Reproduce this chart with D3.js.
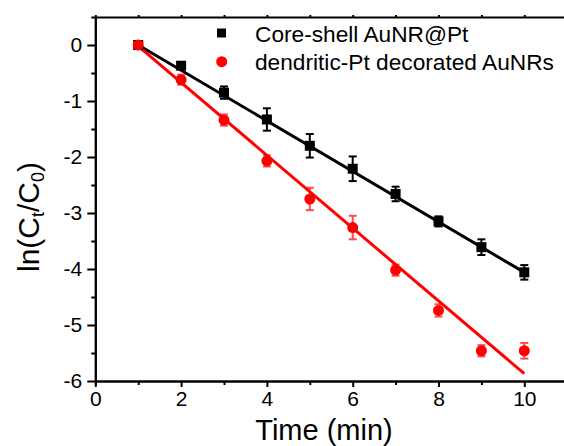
<!DOCTYPE html>
<html>
<head>
<meta charset="utf-8">
<script src="https://cdn.jsdelivr.net/npm/d3@7"></script>
<style>
  body { margin: 0; background: #fff; }
  svg { display: block; font-family: "Liberation Sans", Arial, sans-serif; }
</style>
</head>
<body>
<svg id="chart"></svg>
<script>
const width = 564;
const height = 446;

// data
const times = [1, 2, 3, 4, 5, 6, 7, 8, 9, 10];
const coreShell = [0, -0.37, -0.85, -1.33, -1.80, -2.21, -2.66, -3.15, -3.61, -4.06];
const coreShellErr = [0.02, 0.04, 0.11, 0.20, 0.21, 0.22, 0.13, 0.09, 0.14, 0.13];
const dendritic = [0, -0.62, -1.34, -2.07, -2.75, -3.26, -4.02, -4.74, -5.46, -5.46];
const dendriticErr = [0.02, 0.09, 0.10, 0.10, 0.20, 0.21, 0.10, 0.11, 0.10, 0.14];
const coreShellFit = [[1, 0], [10, -4.06]];
const dendriticFit = [[1, -0.02], [10, -5.87]];

const xTicks = [0, 2, 4, 6, 8, 10];
const xMinor = [1, 3, 5, 7, 9, 11];
const yTicks = [0, -1, -2, -3, -4, -5, -6];
const yTickLabels = ['0', '-1', '-2', '-3', '-4', '-5', '-6'];
const yMinor = [0.5, -0.5, -1.5, -2.5, -3.5, -4.5, -5.5];
const seriesNames = ['Core-shell AuNR@Pt', 'dendritic-Pt decorated AuNRs'];

const svg = d3.select('#chart')
            .attr('width', width)
            .attr('height', height);

const x = d3.scaleLinear().domain([0, 11]).range([95.3, 567.2]);
const y = d3.scaleLinear().domain([-6, 0.5]).range([381, 17]);

// axes
const axisStyle = g => {
    g.select('.domain').attr('stroke', '#000').attr('stroke-width', 2);
    g.selectAll('.tick line').attr('stroke', '#000').attr('stroke-width', 2);
    g.selectAll('.tick text').attr('fill', '#000').style('font-size', '21px');
};

svg.append('g')
    .attr('transform', `translate(0, ${y(-6)})`)
    .call(d3.axisBottom(x).tickValues(xMinor).tickSize(4).tickFormat(''))
    .call(axisStyle);
svg.append('g')
    .attr('transform', `translate(0, ${y(-6)})`)
    .call(d3.axisBottom(x).tickValues(xTicks).tickSize(6).tickSizeOuter(0).tickPadding(4))
    .call(axisStyle);

svg.append('g')
    .attr('transform', `translate(0, ${y(0.5)})`)
    .call(d3.axisTop(x).tickValues(d3.range(0, 12)).tickSize(2).tickSizeOuter(0).tickFormat(''))
    .call(axisStyle);

svg.append('g')
    .attr('transform', `translate(${x(0)}, 0)`)
    .call(d3.axisLeft(y).tickValues(yMinor).tickSize(4).tickSizeOuter(0).tickFormat(''))
    .call(axisStyle);
svg.append('g')
    .attr('transform', `translate(${x(0)}, 0)`)
    .call(d3.axisLeft(y).tickValues(yTicks).tickSize(8).tickSizeOuter(0).tickPadding(5)
        .tickFormat((d, i) => yTickLabels[i]))
    .call(axisStyle);

// axis titles
svg.append('text')
    .attr('x', 324)
    .attr('y', 440)
    .attr('text-anchor', 'middle')
    .style('font-size', '29px')
    .text('Time (min)');

const yTitle = svg.append('text')
    .attr('transform', 'translate(39, 217) rotate(-90)')
    .attr('text-anchor', 'middle')
    .style('font-size', '30px');
yTitle.append('tspan').text('ln(C');
yTitle.append('tspan').attr('baseline-shift', '-25%').style('font-size', '18px').text('t');
yTitle.append('tspan').text('/C');
yTitle.append('tspan').attr('baseline-shift', '-25%').style('font-size', '18px').text('0');
yTitle.append('tspan').text(')');

// fit lines
const line = d3.line().x(d => x(d[0])).y(d => y(d[1]));
svg.append('path').datum(coreShellFit)
    .attr('d', line).attr('fill', 'none').attr('stroke', '#000').attr('stroke-width', 3);
svg.append('path').datum(dendriticFit)
    .attr('d', line).attr('fill', 'none').attr('stroke', '#ff0000').attr('stroke-width', 3);

// error bars
function errorBars(values, errs, color, opacity) {
    const g = svg.append('g').attr('stroke', color).attr('stroke-width', 2).attr('opacity', opacity);
    times.forEach((t, i) => {
        const cx = x(t);
        const top = y(values[i] + errs[i]);
        const bottom = y(values[i] - errs[i]);
        g.append('line').attr('x1', cx).attr('x2', cx).attr('y1', top).attr('y2', bottom);
        g.append('line').attr('x1', cx - 4).attr('x2', cx + 4).attr('y1', top).attr('y2', top);
        g.append('line').attr('x1', cx - 4).attr('x2', cx + 4).attr('y1', bottom).attr('y2', bottom);
    });
}
errorBars(coreShell, coreShellErr, '#000', 1);
errorBars(dendritic, dendriticErr, '#ff0000', 0.7);

// markers
svg.append('g').selectAll('rect')
    .data(times.map((t, i) => [t, coreShell[i]]))
    .join('rect')
    .attr('x', d => x(d[0]) - 5)
    .attr('y', d => y(d[1]) - 5)
    .attr('width', 10)
    .attr('height', 10)
    .attr('fill', '#000');

svg.append('g').selectAll('circle')
    .data(times.map((t, i) => [t, dendritic[i]]))
    .join('circle')
    .attr('cx', d => x(d[0]))
    .attr('cy', d => y(d[1]))
    .attr('r', 5.5)
    .attr('fill', '#ff0000');

// legend
const legend = svg.append('g');
legend.append('rect').attr('x', 217).attr('y', 28.5).attr('width', 9).attr('height', 9).attr('fill', '#000');
legend.append('circle').attr('cx', 221.7).attr('cy', 61.7).attr('r', 5.5).attr('fill', '#ff0000');
legend.selectAll('text')
    .data(seriesNames)
    .join('text')
    .attr('x', 255)
    .attr('y', (d, i) => 41.5 + i * 28.5)
    .style('font-size', '22.7px')
    .text(d => d);
</script>
</body>
</html>
